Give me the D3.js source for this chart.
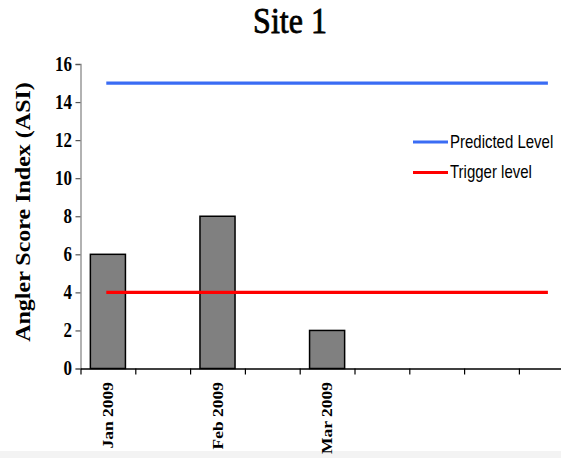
<!DOCTYPE html>
<html>
<head>
<meta charset="utf-8">
<script src="https://cdn.jsdelivr.net/npm/d3@7"></script>
<style>
  body { margin: 0; background: #fff; }
  svg { display: block; }
</style>
</head>
<body>
<div id="chart"></div>
<script>
// chart values
var monthLabels = ["Jan 2009", "", "Feb 2009", "", "Mar 2009", "", "", "", ""];
var asiValues = [6, null, 8, null, 2, null, null, null, null];
var predictedLevel = [15, 15, 15, 15, 15, 15, 15, 15, 15];
var triggerLevel = [4, 4, 4, 4, 4, 4, 4, 4, 4];
var yTicks = [0, 2, 4, 6, 8, 10, 12, 14, 16];
var legendItems = ["Predicted Level", "Trigger level"];

var width = 561,
    height = 458,
    STRETCH = 1.2;  // the picture is drawn a bit tall

var x0 = 80.5, step = 54.8;

var svg = d3.select("#chart").append("svg")
    .attr("width", width)
    .attr("height", height);

var xScale = d3.scaleBand()
    .domain(d3.range(monthLabels.length))
    .range([x0, x0 + step * monthLabels.length])
    .paddingInner(0.36)
    .paddingOuter(0.18);

var xEdge = d3.scaleLinear()
    .domain([0, monthLabels.length])
    .range([x0, x0 + step * monthLabels.length]);

var yScale = d3.scaleLinear()
    .domain([0, 16])
    .range([368.5, 64]);

var lineColor = d3.scaleOrdinal()
    .domain(legendItems)
    .range(["#3a6cf4", "#ff0000"]);

function center(i) { return xEdge(i + 0.5); }

function stretch(x, y, rotate, s) {
    return "translate(" + x + "," + y + ") scale(1," + (s || STRETCH) + ")" + (rotate ? " rotate(-90)" : "");
}

// light band at the very bottom of the picture
svg.append("rect")
    .attr("x", 0).attr("y", 451)
    .attr("width", width).attr("height", height - 451)
    .attr("fill", "#f3f3f3");

// title
svg.append("text")
    .attr("transform", stretch(290, 33, false, 1.12))
    .attr("text-anchor", "middle")
    .style("font-family", "'Liberation Serif', serif")
    .style("font-size", "32px")
    .attr("stroke", "#000")
    .attr("stroke-width", 0.7)
    .text("Site 1");

// y axis title
svg.append("text")
    .attr("transform", stretch(30, 212, true))
    .attr("text-anchor", "middle")
    .style("font-family", "'Liberation Serif', serif")
    .style("font-weight", "bold")
    .style("font-size", "20px")
    .text("Angler Score Index (ASI)");

// bars
svg.selectAll(".bar")
    .data(asiValues.map(function(v, i) { return {i: i, v: v}; }).filter(function(d) { return d.v !== null; }))
    .enter()
    .append("rect")
    .attr("class", "bar")
    .attr("x", function(d) { return xScale(d.i); })
    .attr("y", function(d) { return yScale(d.v); })
    .attr("width", xScale.bandwidth())
    .attr("height", function(d) { return yScale(0) - yScale(d.v); })
    .attr("fill", "#808080")
    .attr("stroke", "#000")
    .attr("stroke-width", 1.5);

// y axis
var yAxis = svg.append("g")
    .attr("transform", "translate(" + x0 + ",0)")
    .call(d3.axisLeft(yScale).tickValues(yTicks).tickSize(5).tickSizeOuter(5).tickFormat(""));
yAxis.select(".domain").attr("stroke", "#999").attr("stroke-width", 1.5);
yAxis.selectAll(".tick line").attr("stroke", "#555").attr("stroke-width", 1.2);

svg.selectAll(".ylab")
    .data(yTicks)
    .enter()
    .append("text")
    .attr("class", "ylab")
    .attr("transform", function(d) { return stretch(72, yScale(d)); })
    .attr("text-anchor", "end")
    .attr("dy", "0.34em")
    .style("font-family", "'Liberation Serif', serif")
    .style("font-weight", "bold")
    .style("font-size", "17px")
    .text(function(d) { return d; });

// x axis: ticks between the categories
var xAxis = svg.append("g")
    .attr("transform", "translate(0," + yScale(0) + ")")
    .call(d3.axisBottom(xEdge).tickValues(d3.range(monthLabels.length + 1)).tickSize(6).tickSizeOuter(0).tickFormat(""));
xAxis.select(".domain").attr("stroke", "#000").attr("stroke-width", 1.5);
xAxis.selectAll(".tick line").attr("stroke", "#000").attr("stroke-width", 1.2);

svg.selectAll(".xlab")
    .data(monthLabels.map(function(m, i) { return {i: i, m: m}; }).filter(function(d) { return d.m !== ""; }))
    .enter()
    .append("text")
    .attr("class", "xlab")
    .attr("transform", function(d) { return stretch(center(d.i) + 5, 382, true, 1.13); })
    .attr("text-anchor", "end")
    .style("font-family", "'Liberation Serif', serif")
    .style("font-weight", "bold")
    .style("font-size", "15.5px")
    .text(function(d) { return d.m; });

// level lines
var line = d3.line()
    .x(function(d, i) { return center(i); })
    .y(function(d) { return yScale(d); });

[[legendItems[0], predictedLevel], [legendItems[1], triggerLevel]].forEach(function(s) {
    svg.append("path")
        .datum(s[1])
        .attr("d", line)
        .attr("fill", "none")
        .attr("stroke", lineColor(s[0]))
        .attr("stroke-width", 3.2)
        .attr("stroke-linecap", "square");
});

// legend
var legend = svg.selectAll(".legend")
    .data(legendItems)
    .enter()
    .append("g")
    .attr("class", "legend")
    .attr("transform", function(d, i) { return "translate(413," + (142 + i * 30.5) + ")"; });

legend.append("line")
    .attr("x1", 0).attr("x2", 35)
    .attr("stroke", function(d) { return lineColor(d); })
    .attr("stroke-width", 3.2);

legend.append("text")
    .attr("transform", stretch(37, 5.5))
    .style("font-family", "'Liberation Sans', Arial, sans-serif")
    .style("font-size", "15px")
    .text(function(d) { return d; });
</script>
</body>
</html>
